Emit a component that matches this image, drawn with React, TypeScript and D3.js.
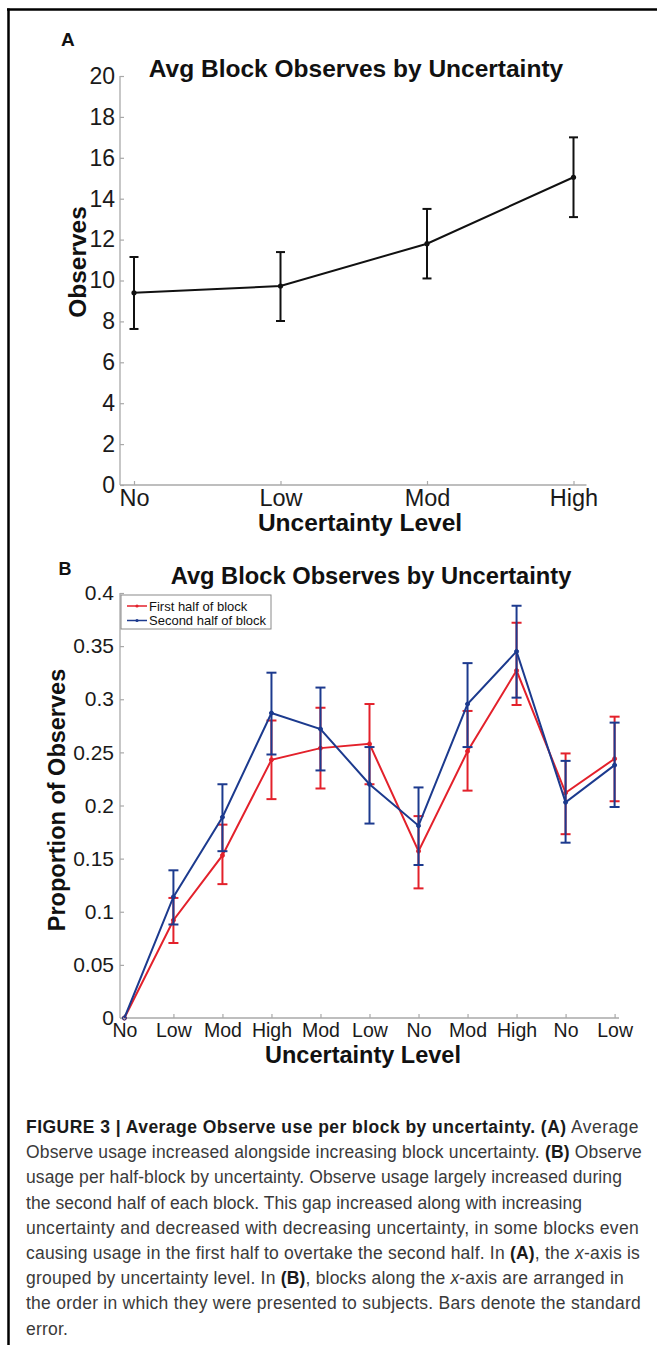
import { useEffect, useRef } from "react";
import * as d3 from "d3";

// Panel A: average observes per uncertainty level
const levelsA = ["No", "Low", "Mod", "High"];
const meanA = [9.4, 9.73, 11.8, 15.05];
const upperA = [11.15, 11.39, 13.5, 17.0];
const lowerA = [7.63, 8.02, 10.1, 13.1];
const yTicksA = [0, 2, 4, 6, 8, 10, 12, 14, 16, 18, 20];

// Panel B: blocks in presentation order, first vs second half
const blocksB = ["No", "Low", "Mod", "High", "Mod", "Low", "No", "Mod", "High", "No", "Low"];
const firstMean = [0, 0.092, 0.153, 0.243, 0.254, 0.258, 0.157, 0.251, 0.327, 0.212, 0.244];
const firstUpper = [0, 0.113, 0.182, 0.28, 0.292, 0.2955, 0.19, 0.289, 0.372, 0.249, 0.2836];
const firstLower = [0, 0.0706, 0.126, 0.206, 0.216, 0.22, 0.122, 0.214, 0.2946, 0.173, 0.204];
const secondMean = [0, 0.114, 0.189, 0.287, 0.272, 0.22, 0.181, 0.2955, 0.345, 0.203, 0.238];
const secondUpper = [0, 0.139, 0.22, 0.325, 0.311, 0.255, 0.217, 0.334, 0.388, 0.242, 0.278];
const secondLower = [0, 0.088, 0.157, 0.248, 0.233, 0.183, 0.144, 0.255, 0.3015, 0.165, 0.1986];
const yTicksB = [0, 0.05, 0.1, 0.15, 0.2, 0.25, 0.3, 0.35, 0.4];
const seriesNames = ["First half of block", "Second half of block"];

// caption: [text, style] segments per line ("b" bold, "i" italic, "" normal)
const captionLines: [string, string][][] = [
  [["FIGURE 3 | Average Observe use per block by uncertainty. (A)", "b"], [" Average", ""]],
  [["Observe usage increased alongside increasing block uncertainty. ", ""], ["(B)", "b"], [" Observe", ""]],
  [["usage per half-block by uncertainty. Observe usage largely increased during", ""]],
  [["the second half of each block. This gap increased along with increasing", ""]],
  [["uncertainty and decreased with decreasing uncertainty, in some blocks even", ""]],
  [["causing usage in the first half to overtake the second half. In ", ""], ["(A)", "b"], [", the ", ""], ["x", "i"], ["-axis is", ""]],
  [["grouped by uncertainty level. In ", ""], ["(B)", "b"], [", blocks along the ", ""], ["x", "i"], ["-axis are arranged in", ""]],
  [["the order in which they were presented to subjects. Bars denote the standard", ""]],
  [["error.", ""]],
];
// right end of each printed caption line (last line keeps the average spacing)
const captionEnds = [639, 642, 622, 582, 639, 640, 624, 641, 0];

const FONT = "'Liberation Sans', Arial, Helvetica, sans-serif";
const AXIS = "#a9a9a9";
const RED = "#e3212b";
const BLUE = "#1c3a8e";

export default function App() {
  const svgRef = useRef<SVGSVGElement>(null);

  useEffect(() => {
    if (!svgRef.current) return;
    const W = 657;
    const H = 1345;
    const svg = d3.select(svgRef.current).attr("width", W).attr("height", H);
    svg.selectAll("*").remove();
    svg.append("rect").attr("width", W).attr("height", H).attr("fill", "#fff");

    // figure frame (top + left edge)
    svg.append("line").attr("x1", 7).attr("x2", W).attr("y1", 9.5).attr("y2", 9.5)
      .attr("stroke", "#000").attr("stroke-width", 2.5);
    svg.append("line").attr("x1", 8.5).attr("x2", 8.5).attr("y1", 8.5).attr("y2", H)
      .attr("stroke", "#000").attr("stroke-width", 2.5);

    const text = (x: number, y: number, s: string, size: number, bold = false, anchor = "middle") =>
      svg.append("text").attr("x", x).attr("y", y).attr("text-anchor", anchor)
        .style("font-family", FONT).style("font-size", `${size}px`)
        .style("font-weight", bold ? "bold" : "normal").style("fill", "#111").text(s);

    const styleAxis = (sel: d3.Selection<SVGGElement, unknown, null, undefined>, size: number) => {
      sel.select(".domain").remove();
      sel.selectAll("line").attr("stroke", AXIS).attr("stroke-width", 1.2);
      sel.selectAll("text").style("font-family", FONT).style("font-size", `${size}px`).style("fill", "#1a1a1a");
    };

    const errorBars = (
      g: d3.Selection<SVGGElement, unknown, null, undefined>,
      xs: number[], lo: number[], hi: number[], y: d3.ScaleLinear<number, number>,
      color: string, cap: number,
    ) => {
      xs.forEach((x, i) => {
        if (hi[i] === lo[i]) return;
        g.append("line").attr("x1", x).attr("x2", x).attr("y1", y(lo[i])).attr("y2", y(hi[i]))
          .attr("stroke", color).attr("stroke-width", 2);
        [lo[i], hi[i]].forEach((v) =>
          g.append("line").attr("x1", x - cap / 2).attr("x2", x + cap / 2).attr("y1", y(v)).attr("y2", y(v))
            .attr("stroke", color).attr("stroke-width", 2));
      });
    };

    // ---------------- Panel A ----------------
    text(61, 46, "A", 19, true, "start");
    text(356, 77, "Avg Block Observes by Uncertainty", 24.5, true);

    const xA = d3.scalePoint<string>().domain(levelsA).range([134, 573.5]);
    const yA = d3.scaleLinear().domain([0, 20]).range([485, 76]);

    svg.append("line").attr("x1", 120).attr("x2", 120).attr("y1", 76).attr("y2", 485)
      .attr("stroke", AXIS).attr("stroke-width", 1.3);
    svg.append("line").attr("x1", 120).attr("x2", 586.5).attr("y1", 485).attr("y2", 485)
      .attr("stroke", AXIS).attr("stroke-width", 1.3);

    svg.append("g").attr("transform", "translate(120,0)")
      .call(d3.axisLeft(yA).tickValues(yTicksA).tickSize(-4).tickSizeOuter(0).tickPadding(5))
      .call((s) => styleAxis(s, 23));
    svg.append("g").attr("transform", "translate(0,485)")
      .call(d3.axisBottom(xA).tickSize(-4).tickSizeOuter(0).tickPadding(4))
      .call((s) => styleAxis(s, 23.5));

    text(360, 530.5, "Uncertainty Level", 24.5, true);
    text(0, 0, "Observes", 24.5, true).attr("x", null).attr("y", null)
      .attr("transform", "translate(86,262) rotate(-90)");

    const gA = svg.append("g");
    const lineA = d3.line<number>().x((_, i) => xA(levelsA[i])!).y((d) => yA(d));
    errorBars(gA, levelsA.map((l) => xA(l)!), lowerA, upperA, yA, "#111", 9);
    gA.append("path").datum(meanA).attr("d", lineA).attr("fill", "none")
      .attr("stroke", "#111").attr("stroke-width", 2);
    gA.selectAll("circle").data(meanA).join("circle")
      .attr("cx", (_, i) => xA(levelsA[i])!).attr("cy", (d) => yA(d)).attr("r", 2.6).attr("fill", "#111");

    // ---------------- Panel B ----------------
    text(58.5, 575, "B", 18, true, "start");
    text(371, 584, "Avg Block Observes by Uncertainty", 23.7, true);

    const idx = blocksB.map((_, i) => i);
    const xB = d3.scalePoint<number>().domain(idx).range([124.4, 614.6]);
    const yB = d3.scaleLinear().domain([0, 0.4]).range([1018, 593]);

    svg.append("line").attr("x1", 120).attr("x2", 120).attr("y1", 593).attr("y2", 1018)
      .attr("stroke", AXIS).attr("stroke-width", 1.3);
    svg.append("line").attr("x1", 120).attr("x2", 619).attr("y1", 1018).attr("y2", 1018)
      .attr("stroke", AXIS).attr("stroke-width", 1.3);

    svg.append("g").attr("transform", "translate(120,0)")
      .call(d3.axisLeft(yB).tickValues(yTicksB).tickSize(-4).tickSizeOuter(0).tickPadding(6)
        .tickFormat((d) => String(+d)))
      .call((s) => styleAxis(s, 21));
    svg.append("g").attr("transform", "translate(0,1018)")
      .call(d3.axisBottom(xB).tickSize(-4).tickSizeOuter(0).tickPadding(5)
        .tickFormat((d) => blocksB[d as number]))
      .call((s) => styleAxis(s, 19.5));

    text(363, 1063, "Uncertainty Level", 23.5, true);
    text(0, 0, "Proportion of Observes", 23.5, true).attr("x", null).attr("y", null)
      .attr("transform", "translate(65,800) rotate(-90)");

    const gB = svg.append("g");
    const xsB = idx.map((i) => xB(i)!);
    const lineB = d3.line<number>().x((_, i) => xsB[i]).y((d) => yB(d));
    const series = [
      { mean: firstMean, lo: firstLower, hi: firstUpper, color: RED },
      { mean: secondMean, lo: secondLower, hi: secondUpper, color: BLUE },
    ];
    series.forEach((s) => {
      errorBars(gB, xsB, s.lo, s.hi, yB, s.color, 10);
      gB.append("path").datum(s.mean).attr("d", lineB).attr("fill", "none")
        .attr("stroke", s.color).attr("stroke-width", 2);
      gB.append("g").selectAll("circle").data(s.mean).join("circle")
        .attr("cx", (_, i) => xsB[i]).attr("cy", (d) => yB(d)).attr("r", 2)
        .attr("fill", (d) => (d === 0 ? "none" : s.color)).attr("stroke", s.color).attr("stroke-width", 1);
    });

    // legend
    const lg = svg.append("g").attr("transform", "translate(121,595)");
    lg.append("rect").attr("width", 150).attr("height", 34).attr("fill", "#fff")
      .attr("stroke", "#8a8a8a").attr("stroke-width", 1);
    seriesNames.forEach((name, i) => {
      const yy = 11 + i * 14.5;
      const c = series[i].color;
      lg.append("line").attr("x1", 6).attr("x2", 26).attr("y1", yy).attr("y2", yy)
        .attr("stroke", c).attr("stroke-width", 1.5);
      lg.append("circle").attr("cx", 16).attr("cy", yy).attr("r", 1.6).attr("fill", c);
      lg.append("text").attr("x", 28).attr("y", yy + 4.5)
        .style("font-family", FONT).style("font-size", "13px").style("fill", "#111").text(name);
    });

    // ---------------- caption ----------------
    // one <text> per segment; letter-spacing per line is tuned so the line
    // ends where it does in the printed figure
    const spacings: number[] = [];
    captionLines.forEach((segs, li) => {
      const y = 1133 + li * 25.2;
      const els = segs.map(([s, st]) => {
        const t = svg.append("text").attr("y", y)
          .style("font-family", FONT).style("font-size", "17.5px").style("fill", "#3a3a3a")
          .style("white-space", "pre").text(s);
        if (st === "b") t.style("font-weight", "bold").style("fill", "#1a1a1a");
        if (st === "i") t.style("font-style", "italic");
        return t;
      });
      const nChars = d3.sum(segs, ([s]) => s.length);
      const natural = d3.sum(els, (t) => (t.node() as SVGTextElement).getComputedTextLength());
      const ls = captionEnds[li] > 0
        ? (captionEnds[li] - 26 - natural) / nChars
        : d3.mean(spacings) ?? 0;
      spacings.push(ls);
      let x = 26;
      els.forEach((t) => {
        t.style("letter-spacing", `${ls}px`).attr("x", x);
        x += (t.node() as SVGTextElement).getComputedTextLength();
      });
    });
  }, []);

  return (
    <div style={{ position: "absolute", left: 0, top: 0 }}>
      <svg ref={svgRef} role="img" aria-label="Average Observe use per block by uncertainty" />
    </div>
  );
}
